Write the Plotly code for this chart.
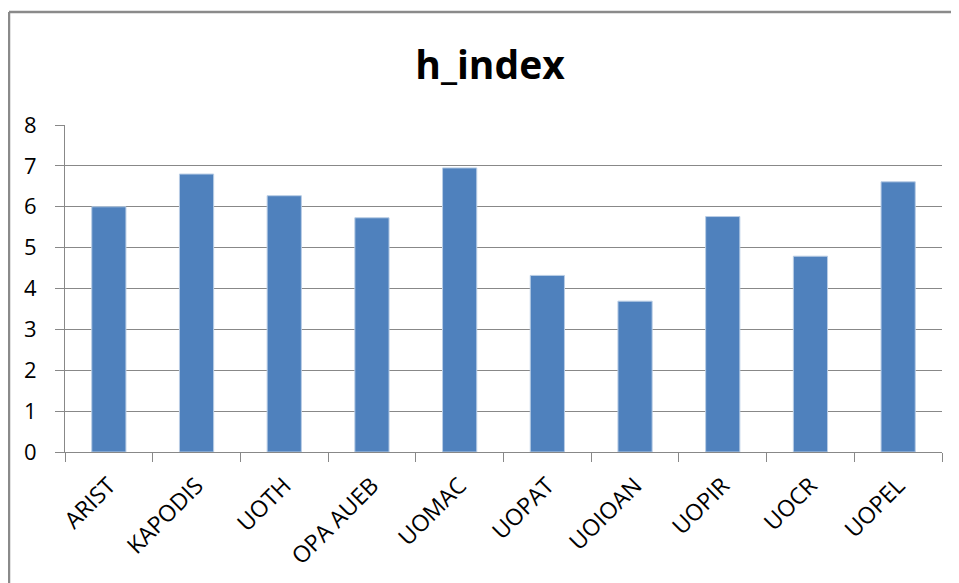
import plotly.graph_objects as go

categories = ["ARIST", "KAPODIS", "UOTH", "OPA AUEB", "UOMAC",
              "UOPAT", "UOIOAN", "UOPIR", "UOCR", "UOPEL"]
h_index = [6.0, 6.8, 6.27, 5.73, 6.95, 4.32, 3.69, 5.76, 4.79, 6.61]
y_ticks = [0, 1, 2, 3, 4, 5, 6, 7, 8]

FONT = "Open Sans"
GRID = "#888888"

fig = go.Figure(go.Bar(
    x=categories, y=h_index,
    marker=dict(color="#4F81BD", line=dict(color="#b9cde5", width=1)),
    width=0.39,
))

fig.update_layout(
    width=951, height=575,
    margin=dict(l=57, r=17, t=117, b=131),
    paper_bgcolor="white", plot_bgcolor="white",
    showlegend=False,
    title=dict(text="<b>h_index</b>", x=482 / 951, xanchor="center", y=1 - 57 / 575, yanchor="middle",
               font=dict(family=FONT, size=39, color="black")),
    font=dict(family=FONT, size=22, color="black"),
    shapes=[
        # chart frame: left and top edges (the rest runs off the picture)
        dict(type="line", xref="paper", yref="paper",
             x0=-56 / 877, y0=-0.6, x1=-56 / 877, y1=1 + 113 / 327,
             line=dict(color="#8a8a8a", width=2.5)),
        dict(type="line", xref="paper", yref="paper",
             x0=-56 / 877, y0=1 + 113 / 327, x1=1.2, y1=1 + 113 / 327,
             line=dict(color="#8a8a8a", width=2.5)),
    ],
)

fig.update_xaxes(
    type="category", showgrid=False, showline=True, linecolor=GRID, linewidth=1,
    ticks="outside", tickson="boundaries", ticklen=9, tickcolor=GRID,
    tickangle=-45, ticklabelstandoff=10,
    tickfont=dict(family=FONT, size=23, color="black"),
)
fig.update_yaxes(
    range=[0, 8], tickvals=y_ticks, showgrid=True, gridcolor=GRID, gridwidth=1,
    showline=True, linecolor=GRID, linewidth=1, zeroline=False,
    ticks="outside", ticklen=9, tickcolor=GRID, ticklabelstandoff=14,
    tickfont=dict(family=FONT, size=22, color="black"),
)

fig.write_html("out.html")
